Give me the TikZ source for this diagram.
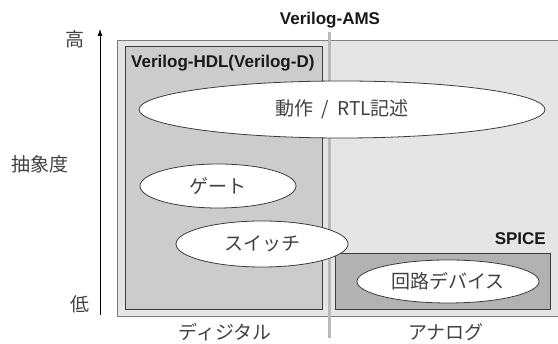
\documentclass[tikz,border=0pt]{standalone}
\usepackage{fontspec}
\setmainfont{Liberation Sans}
\newfontfamily\jpfont{Noto Sans CJK JP}
\usetikzlibrary{shapes.geometric, arrows.meta, positioning}
\definecolor{amsgray}{RGB}{229, 229, 229}
\definecolor{hdlgray}{RGB}{204, 204, 204}
\definecolor{spicegray}{RGB}{178, 178, 178}
\definecolor{framegray}{RGB}{125, 125, 125}
\definecolor{edgegray}{RGB}{60, 60, 60}
\definecolor{divgray}{RGB}{185, 185, 185}
\definecolor{textgray}{RGB}{65, 65, 65}

\begin{document}
\begin{tikzpicture}[
    x=1pt, y=-1pt,
    amsbox/.style={rectangle, draw=framegray, fill=amsgray, line width=0.8pt, inner sep=0pt},
    hdlbox/.style={rectangle, draw=edgegray, fill=hdlgray, line width=0.8pt, inner sep=0pt},
    spicebox/.style={rectangle, draw=edgegray, fill=spicegray, line width=0.8pt, inner sep=0pt},
    lvl/.style={ellipse, draw=edgegray, fill=white, line width=0.8pt, inner sep=0pt, font=\jpfont\fontsize{19}{19}\selectfont, text=textgray},
    langlbl/.style={font=\bfseries\fontsize{17}{17}\selectfont, text=black!90, inner sep=0pt},
    jlbl/.style={font=\jpfont\fontsize{19}{19}\selectfont, text=textgray, inner sep=0pt}
]
  \useasboundingbox (0,0) rectangle (558,344);

  % Boxes
  \node[amsbox, minimum width=450, minimum height=276] (ams) at (342,178) {};
  \node[hdlbox, minimum width=197, minimum height=263] (hdl) at (223.5,177.5) {};
  \node[spicebox, minimum width=215, minimum height=56] (spice) at (442.5,281) {};

  % Digital / analog divider
  \coordinate (divtop) at (329,32);
  \coordinate (divbot) at (329,338);
  \draw[divgray, line width=3pt] (divtop) -- (divbot);

  % Language labels
  \node[langlbl, anchor=base] (amslbl) at (330,25) {Verilog-AMS};
  \node[langlbl, anchor=base west] (hdllbl) at (131,68) {Verilog-HDL(Verilog-D)};
  \node[langlbl, anchor=base east] (spicelbl) at (546,245) {SPICE};

  % Abstraction levels
  \node[lvl, minimum width=406, minimum height=57] (behav) at (342,109.5) {動作\ \ /\ \ RTL記述};
  \node[lvl, minimum width=156, minimum height=44] (gate) at (218,186) {ゲート};
  \node[lvl, minimum width=172, minimum height=46] (switch) at (262,244) {スイッチ};
  \node[lvl, minimum width=182, minimum height=43] (device) at (448,281.5) {回路デバイス};

  % Axis
  \coordinate (axbot) at (100,315);
  \coordinate (axtop) at (100,29);
  \draw[-{Latex[length=7pt, width=5pt]}, line width=0.8pt] (axbot) -- (axtop);
  \node[jlbl] (high) at (75,39) {高};
  \node[jlbl] (low) at (80,304) {低};
  \node[jlbl] (absdeg) at (40,164) {抽象度};

  % Domain labels
  \node[jlbl] (digital) at (225,332) {ディジタル};
  \node[jlbl] (analog) at (446,332) {アナログ};
\end{tikzpicture}
\end{document}
